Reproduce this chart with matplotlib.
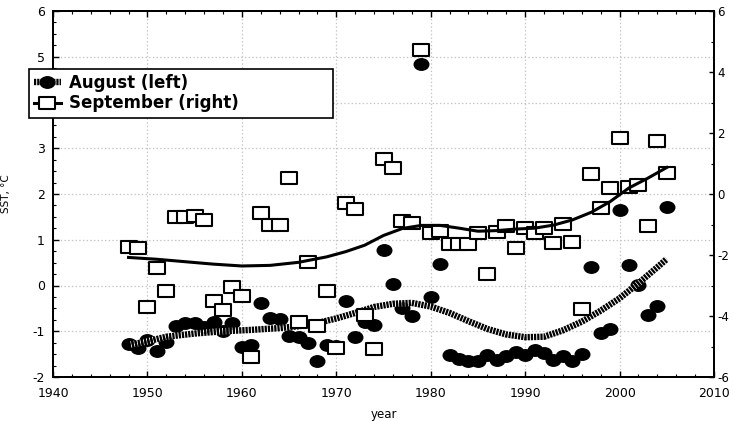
import numpy as np
import matplotlib
matplotlib.use("Agg")
import matplotlib.pyplot as plt
from matplotlib.path import Path
from matplotlib.lines import Line2D
from matplotlib.ticker import MultipleLocator

# Sea surface temperature anomalies, 1948-2005
years = list(range(1948, 2006))

august = [-1.28, -1.36, -1.19, -1.44, -1.23, -0.89, -0.81, -0.82, -0.90, -0.79,
          -0.99, -0.82, -1.34, -1.29, -0.38, -0.70, -0.73, -1.10, -1.12, -1.26,
          -1.64, -1.30, -1.33, -0.34, -1.12, -0.79, -0.86, 0.77, 0.04, -0.50,
          -0.67, 4.84, -0.25, 0.47, -1.51, -1.61, -1.66, -1.66, -1.51, -1.63,
          -1.55, -1.46, -1.52, -1.40, -1.48, -1.63, -1.54, -1.64, -1.50, 0.41,
          -1.03, -0.94, 1.65, 0.45, 0.01, -0.64, -0.45, 1.72]

september = [-1.73, -1.78, -3.69, -2.44, -3.17, -0.77, -0.77, -0.72, -0.85, -3.50,
             -3.80, -3.06, -3.34, -5.33, -0.63, -1.02, -1.02, 0.51, -4.19, -2.22,
             -4.33, -3.17, -5.04, -0.28, -0.50, -3.97, -5.08, 1.14, 0.84, -0.87,
             -0.96, 4.72, -1.29, -1.20, -1.64, -1.64, -1.64, -1.29, -2.63, -1.24,
             -1.05, -1.78, -1.13, -1.29, -1.13, -1.60, -0.98, -1.56, -3.77, 0.65,
             -0.46, 0.19, 1.83, 0.22, 0.28, -1.04, 1.75, 0.68]

# Smoothed trends
aug_trend_years = [1948, 1950, 1952, 1955, 1958, 1961, 1964, 1966, 1968, 1970,
                   1972, 1974, 1976, 1978, 1980, 1982, 1984, 1986, 1988, 1990,
                   1992, 1994, 1996, 1998, 2000, 2002, 2004, 2005]
aug_trend = [-1.30, -1.22, -1.12, -1.05, -1.00, -0.97, -0.93, -0.89, -0.82, -0.72,
             -0.60, -0.47, -0.40, -0.38, -0.46, -0.60, -0.78, -0.95, -1.07, -1.13,
             -1.12, -0.98, -0.79, -0.55, -0.28, 0.05, 0.40, 0.58]

sep_trend_years = [1948, 1951, 1954, 1957, 1960, 1963, 1966, 1969, 1971, 1973,
                   1975, 1977, 1979, 1981, 1983, 1985, 1987, 1989, 1991, 1993,
                   1995, 1997, 1999, 2001, 2003, 2005]
sep_trend = [-2.08, -2.14, -2.22, -2.30, -2.36, -2.34, -2.24, -2.06, -1.89, -1.68,
             -1.36, -1.13, -1.03, -1.03, -1.12, -1.22, -1.20, -1.15, -1.12, -1.02,
             -0.85, -0.60, -0.25, 0.20, 0.52, 0.87]

labels = ["August (left)", "September (right)"]

plt.rcParams["font.family"] = ["DejaVu Sans"]
plt.rcParams["lines.scale_dashes"] = False
plt.rcParams["axes.unicode_minus"] = False

# Slightly wide markers
circ = Path.unit_circle()
ellipse_marker = Path(circ.vertices * np.array([1.27, 1.0]), circ.codes)
rect_marker = Path(np.array([[-1.3, -1.0], [1.3, -1.0], [1.3, 1.0], [-1.3, 1.0], [-1.3, -1.0]]),
                   [Path.MOVETO, Path.LINETO, Path.LINETO, Path.LINETO, Path.CLOSEPOLY])

fig = plt.figure(figsize=(7.34, 4.21), dpi=100)
ax = fig.add_axes([53 / 734, 44 / 421, 661 / 734, 366 / 421])
ax2 = ax.twinx()

ax.set_xlim(1940, 2010)
ax.set_ylim(-2, 6)
ax2.set_ylim(-6, 6)

ax.grid(True, which="major", color="#c4c4c4", linestyle=":", linewidth=0.9)
ax.set_axisbelow(True)

# August on the left axis
ax.plot(years, august, linestyle="none", marker=ellipse_marker, markersize=10.5,
        color="black", zorder=3)
ax.plot(aug_trend_years, aug_trend, color="black", linewidth=4.6,
        dashes=(1.6, 0.7), gapcolor="white", zorder=4,
        solid_capstyle="butt", dash_capstyle="butt")

# September on the right axis
ax2.plot(years, september, linestyle="none", marker=rect_marker, markersize=11.5,
         markerfacecolor="white", markeredgecolor="black", markeredgewidth=1.5,
         zorder=3)
ax2.plot(sep_trend_years, sep_trend, color="black", linewidth=2.2, zorder=4,
         solid_joinstyle="round")

# Ticks
ax.xaxis.set_major_locator(MultipleLocator(10))
ax.xaxis.set_minor_locator(MultipleLocator(2))
ax.yaxis.set_major_locator(MultipleLocator(1))
ax.yaxis.set_minor_locator(MultipleLocator(0.25))
ax2.yaxis.set_major_locator(MultipleLocator(2))
ax2.yaxis.set_minor_locator(MultipleLocator(1))

ax.tick_params(axis="both", which="major", direction="in", length=4, width=1,
               labelsize=9, top=True, right=False, pad=6)
ax.tick_params(axis="both", which="minor", direction="in", length=2.5, width=0.8,
               top=True, right=False)
ax.tick_params(axis="x", which="major", pad=7)
ax2.tick_params(axis="y", which="major", direction="in", length=3.5, width=1,
                labelsize=8.5, pad=2.5)
ax2.tick_params(axis="y", which="minor", direction="in", length=2, width=0.8)

for a in (ax, ax2):
    for s in a.spines.values():
        s.set_linewidth(1.4)

ax.set_xlabel("year", fontsize=8.5)
ax.xaxis.set_label_coords(0.5, -0.085)
ax.set_ylabel("SST, °C", fontsize=7.5)
ax.yaxis.set_label_coords(-0.064, 0.5)

# Legend
h1 = Line2D([], [], color="black", linewidth=4.6, dashes=(1.6, 0.7), gapcolor="white",
            marker=ellipse_marker, markersize=10.5, markerfacecolor="black")
h2 = Line2D([], [], color="black", linewidth=2.2, marker=rect_marker, markersize=11.5,
            markerfacecolor="white", markeredgecolor="black", markeredgewidth=1.5)
leg = ax2.legend([h1, h2], labels, loc="upper left",
                 bbox_to_anchor=(29 / 734, 1 - 115 / 421, 304 / 734, 46 / 421),
                 bbox_transform=fig.transFigure, mode="expand", borderaxespad=0,
                 prop={"weight": "bold", "size": 12}, frameon=True, fancybox=False,
                 framealpha=1, edgecolor="black", handlelength=1.6,
                 handletextpad=0.5, labelspacing=0.15, borderpad=0.3)
leg.get_frame().set_linewidth(1.2)
leg.set_zorder(10)

fig.savefig("out.png", dpi=100)
